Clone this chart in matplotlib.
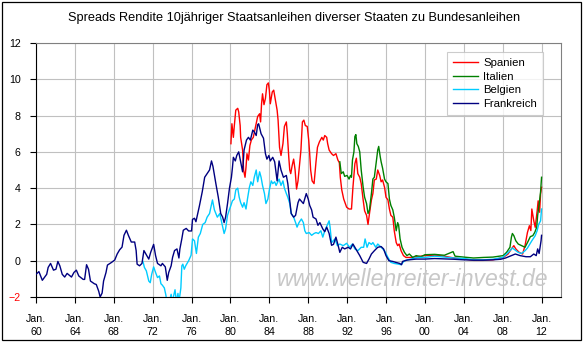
# -*- coding: utf-8 -*-
"""Spreads 10j. Staatsanleihen vs. Bundesanleihen"""

import matplotlib
matplotlib.use("Agg")
import matplotlib.pyplot as plt
from matplotlib.patches import Rectangle

# =====================================================
# DATEN (Jahr als Dezimalzahl, Spread in Prozentpunkten)
# =====================================================

jahre_frankreich = [
    1960.0, 1960.3, 1960.65, 1961.1, 1961.25, 1961.5, 1961.8, 1962.05, 1962.25, 1962.45,
    1962.7, 1962.95, 1963.2, 1963.65, 1963.9, 1964.15, 1964.4, 1964.85, 1965.0, 1965.2,
    1965.4, 1965.6, 1966.0, 1966.2, 1966.45, 1966.6, 1966.8, 1966.95, 1967.2, 1967.35,
    1967.75, 1968.1, 1968.35, 1968.6, 1968.85, 1969.05, 1969.3, 1969.5, 1969.8, 1970.15,
    1970.3, 1970.4, 1970.65, 1970.9, 1971.1, 1971.4, 1971.6, 1971.8, 1972.1, 1972.3,
    1972.5, 1972.85, 1973.0, 1973.3, 1973.5, 1973.65, 1973.9, 1974.05, 1974.25, 1974.5,
    1974.7, 1974.8, 1975.0, 1975.15, 1975.45, 1975.7, 1976.0, 1976.1, 1976.3, 1976.45,
    1976.6, 1976.8, 1977.1, 1977.35, 1977.6, 1977.85, 1978.05, 1978.2, 1978.5, 1978.75,
    1979.0, 1979.2, 1979.35, 1979.5, 1979.7, 1979.9, 1980.1, 1980.2, 1980.3, 1980.5,
    1980.65, 1980.85, 1981.05, 1981.25, 1981.4, 1981.65, 1981.85, 1982.05, 1982.3, 1982.45,
    1982.65, 1982.8, 1982.9, 1983.15, 1983.4, 1983.6, 1983.75, 1983.95, 1984.1, 1984.35,
    1984.55, 1984.8, 1985.0, 1985.2, 1985.45, 1985.75, 1985.9, 1986.1, 1986.25, 1986.5,
    1986.7, 1986.95, 1987.1, 1987.5, 1987.8, 1988.0, 1988.15, 1988.35, 1988.5, 1988.8,
    1989.0, 1989.2, 1989.5, 1989.7, 1989.9, 1990.15, 1990.4, 1990.6, 1990.85, 1991.05,
    1991.25, 1991.5, 1991.75, 1992.1, 1992.35, 1992.6, 1992.8, 1993.0, 1993.3, 1993.65,
    1994.0, 1994.25, 1994.5, 1994.8, 1995.15, 1995.5, 1995.75, 1996.0, 1996.3, 1996.7,
    1997.0, 1997.4, 1997.6, 1997.7, 1998.2, 1999.1, 2000.0, 2001.0, 2002.0, 2003.0,
    2004.0, 2005.0, 2006.0, 2007.0, 2007.8, 2008.3, 2008.9, 2009.3, 2009.8, 2010.4,
    2010.85, 2011.2, 2011.45, 2011.6, 2011.75, 2011.95, 2012.0,
]
frankreich = [
    -0.75, -0.6, -1.08, -0.75, -0.37, -0.15, -0.52, -0.47, -0.04, -0.28,
    -0.75, -0.9, -0.7, -0.9, -0.65, -0.52, -0.84, -1.03, -1.03, -0.22,
    -0.47, -1.12, -1.27, -1.31, -1.68, -2.0, -1.78, -1.12, -0.65, -0.24,
    -0.1, 0.04, 0.37, 0.6, 0.75, 1.4, 1.68, 1.4, 1.03, 1.03,
    0.56, -0.19, -0.28, -0.15, 0.56, 0.28, 0.09, 0.47, 0.9, 0.28,
    -0.15, -0.28, -0.15, -0.34, -1.08, -0.65, -0.28, 0.19, 0.56, 0.65,
    0.15, 0.65, 1.21, 1.68, 1.78, 1.64, 1.64, 2.28, 2.34, 2.15,
    2.52, 3.0, 3.8, 4.6, 4.8, 5.0, 5.5, 5.2, 4.25, 3.5,
    2.6, 2.4, 2.1, 2.4, 3.15, 4.0, 4.6, 5.1, 5.7, 5.5,
    5.8, 6.0, 5.45, 4.9, 6.1, 6.65, 6.8, 6.65, 7.2, 7.1,
    6.9, 7.5, 7.55, 7.0, 6.75, 5.9, 5.6, 5.8, 5.5, 5.7,
    5.45, 4.4, 5.5, 5.0, 4.6, 4.7, 4.25, 3.3, 2.6, 2.4,
    2.5, 3.2, 3.4, 3.15, 3.7, 3.4, 3.05, 2.8, 2.4, 2.3,
    1.95, 2.1, 1.75, 1.6, 1.85, 1.5, 0.85, 0.9, 1.3, 0.9,
    0.46, 0.74, 0.65, 0.74, 0.65, 0.92, 0.74, 0.55, 0.28, -0.09,
    -0.15, 0.09, 0.37, 0.55, 0.74, 0.78, 0.65, 0.28, 0.0, -0.04,
    -0.09, -0.15, -0.22, -0.04, 0.04, 0.09, 0.09, 0.12, 0.1, 0.08,
    0.05, 0.03, 0.03, 0.05, 0.08, 0.15, 0.28, 0.37, 0.28, 0.22,
    0.22, 0.37, 0.28, 0.65, 0.4, 1.1, 1.4,
]

jahre_belgien = [
    1971.0, 1971.15, 1971.35, 1971.6, 1971.75, 1971.9, 1972.1, 1972.3, 1972.5, 1972.7,
    1972.85, 1973.0, 1973.2, 1973.35, 1973.45, 1973.7, 1973.9, 1974.0, 1974.3, 1974.45,
    1974.6, 1974.7, 1974.9, 1975.0, 1975.1, 1975.25, 1975.4, 1975.7, 1975.95, 1976.1,
    1976.3, 1976.5, 1976.7, 1976.9, 1977.15, 1977.4, 1977.6, 1977.85, 1978.15, 1978.35,
    1978.65, 1978.9, 1979.15, 1979.35, 1979.5, 1979.7, 1979.85, 1980.05, 1980.2, 1980.4,
    1980.55, 1980.75, 1980.9, 1981.05, 1981.25, 1981.4, 1981.6, 1981.75, 1981.95, 1982.1,
    1982.3, 1982.45, 1982.65, 1982.8, 1983.0, 1983.15, 1983.3, 1983.5, 1983.65, 1983.85,
    1984.0, 1984.2, 1984.35, 1984.55, 1984.7, 1985.0, 1985.2, 1985.4, 1985.55, 1985.75,
    1985.9, 1986.1, 1986.25, 1986.5, 1986.7, 1986.85, 1987.05, 1987.3, 1987.5, 1987.65,
    1987.8, 1988.1, 1988.35, 1988.6, 1988.8, 1989.05, 1989.3, 1989.5, 1989.7, 1989.95,
    1990.15, 1990.25, 1990.4, 1990.75, 1991.0, 1991.25, 1991.6, 1991.95, 1992.25, 1992.55,
    1992.8, 1993.1, 1993.45, 1993.7, 1993.85, 1994.05, 1994.25, 1994.5, 1994.65, 1994.95,
    1995.15, 1995.5, 1995.85, 1996.2, 1996.5, 1996.85, 1997.2, 1997.55, 1997.9, 1998.55,
    1999.25, 2000.0, 2001.0, 2002.0, 2003.0, 2004.0, 2005.0, 2006.0, 2007.0, 2008.0,
    2008.4, 2008.75, 2009.0, 2009.25, 2009.6, 2009.95, 2010.3, 2010.55, 2010.8, 2011.0,
    2011.35, 2011.55, 2011.7, 2011.9, 2012.0,
]
belgien = [
    -0.04, -0.37, -0.56, -1.12, -1.21, -0.75, -0.34, -0.65, -0.93, -0.84,
    -1.27, -1.35, -1.5, -1.87, -2.2, -2.3, -1.85, -2.3, -1.6, -2.3,
    -1.8, -2.3, -1.5, -0.28, -0.19, -0.47, -0.28, 0.0, 0.3, 1.2,
    1.1, 0.4, 1.3, 1.5, 2.0, 2.1, 2.4, 2.6, 3.35, 2.8,
    2.4, 2.6, 2.0, 1.5, 1.75, 2.5, 2.75, 3.05, 3.3, 3.4,
    3.9, 4.0, 3.5, 3.2, 2.95, 3.2, 2.85, 3.4, 4.05, 4.35,
    4.15, 4.6, 5.0, 4.35, 4.9, 4.6, 4.15, 3.7, 3.15, 3.4,
    3.9, 4.4, 4.25, 4.35, 4.15, 4.5, 4.15, 4.4, 4.0, 3.7,
    3.5, 3.15, 2.6, 2.4, 2.1, 1.85, 2.1, 2.3, 2.1, 1.65,
    1.5, 1.55, 1.4, 1.5, 1.55, 1.5, 1.65, 1.3, 1.65, 1.95,
    2.2, 1.85, 1.0, 1.2, 0.83, 0.92, 0.83, 0.96, 0.74, 0.92,
    0.65, 0.55, 0.74, 0.74, 1.2, 0.74, 1.0, 0.9, 1.0, 0.74,
    0.92, 0.74, 0.55, 0.18, -0.09, -0.15, -0.18, -0.22, 0.0, 0.09,
    0.18, 0.18, 0.25, 0.2, 0.15, 0.12, 0.05, 0.05, 0.08, 0.18,
    0.37, 0.55, 0.7, 0.6, 0.46, 0.4, 0.55, 0.7, 0.92, 1.1,
    1.38, 1.66, 2.0, 2.2, 2.85,
]

jahre_spanien = [
    1980.05, 1980.15, 1980.3, 1980.4, 1980.55, 1980.75, 1980.85, 1981.0, 1981.05, 1981.25,
    1981.35, 1981.5, 1981.6, 1981.7, 1981.85, 1982.0, 1982.15, 1982.35, 1982.55, 1982.8,
    1983.0, 1983.1, 1983.2, 1983.3, 1983.45, 1983.6, 1983.75, 1983.9, 1984.0, 1984.1,
    1984.3, 1984.45, 1984.65, 1984.8, 1984.9, 1985.05, 1985.2, 1985.4, 1985.55, 1985.75,
    1985.85, 1986.0, 1986.1, 1986.2, 1986.35, 1986.5, 1986.65, 1986.8, 1986.95, 1987.15,
    1987.25, 1987.4, 1987.55, 1987.7, 1987.9, 1988.05, 1988.15, 1988.25, 1988.4, 1988.6,
    1988.8, 1988.95, 1989.15, 1989.4, 1989.55, 1989.7, 1989.9, 1990.0, 1990.15, 1990.4,
    1990.6, 1990.85, 1991.05, 1991.2, 1991.3, 1991.45, 1991.65, 1991.95, 1992.2, 1992.45,
    1992.6, 1992.8, 1992.95, 1993.1, 1993.3, 1993.45, 1993.65, 1993.8, 1994.0, 1994.15,
    1994.3, 1994.5, 1994.65, 1994.8, 1995.0, 1995.15, 1995.35, 1995.5, 1995.65, 1995.85,
    1996.0, 1996.2, 1996.35, 1996.5, 1996.7, 1996.85, 1997.05, 1997.2, 1997.35, 1997.55,
    1997.8, 1998.05, 1998.55, 1999.1, 2000.0, 2001.0, 2002.0, 2003.0, 2004.0, 2005.0,
    2006.0, 2007.0, 2008.05, 2008.55, 2008.9, 2009.15, 2009.35, 2009.7, 2010.05, 2010.3,
    2010.55, 2010.75, 2010.9, 2011.0, 2011.2, 2011.35, 2011.55, 2011.65, 2011.8, 2011.9,
    2012.0,
]
spanien = [
    6.45, 7.55, 6.8, 7.45, 8.3, 8.4, 8.2, 7.45, 6.8, 6.1,
    5.0, 4.6, 5.15, 5.9, 5.55, 6.35, 6.65, 6.8, 7.3, 7.95,
    8.1, 7.65, 8.65, 9.2, 8.6, 8.95, 9.7, 9.8, 9.4, 8.65,
    9.3, 9.4, 8.75, 8.3, 7.75, 6.25, 5.8, 6.45, 7.4, 7.65,
    7.0, 5.7, 5.0, 4.8, 5.25, 5.6, 5.0, 3.95, 4.4, 5.5,
    6.1, 7.65, 7.75, 7.45, 7.4, 6.65, 5.9, 5.0, 4.4, 4.25,
    5.45, 6.25, 6.55, 6.8, 6.65, 6.9, 6.8, 6.45, 6.1, 5.9,
    5.8, 5.9, 5.55, 5.4, 4.6, 3.9, 3.4, 2.95, 2.85, 2.85,
    4.05, 5.35, 5.65, 4.8, 4.6, 4.25, 3.35, 2.75, 2.5, 2.0,
    2.6, 3.35, 3.7, 4.45, 4.5, 5.0, 4.7, 4.35, 4.45, 4.05,
    3.5, 3.35, 2.85, 2.5, 2.4, 1.65, 1.0, 0.83, 0.92, 0.55,
    0.28, 0.18, 0.18, 0.22, 0.28, 0.3, 0.25, 0.15, 0.1, 0.02,
    0.02, 0.05, 0.18, 0.37, 0.65, 0.83, 0.65, 0.46, 0.37, 0.83,
    1.56, 1.93, 1.66, 2.85, 2.2, 1.84, 2.76, 3.3, 2.67, 3.68,
    4.05,
]

jahre_italien = [
    1991.25, 1991.4, 1991.6, 1991.75, 1992.0, 1992.2, 1992.35, 1992.45, 1992.55, 1992.7,
    1992.8, 1992.9, 1993.0, 1993.15, 1993.3, 1993.45, 1993.65, 1993.8, 1994.0, 1994.15,
    1994.3, 1994.5, 1994.65, 1994.8, 1995.0, 1995.15, 1995.25, 1995.4, 1995.5, 1995.65,
    1995.85, 1996.0, 1996.2, 1996.35, 1996.5, 1996.7, 1996.85, 1997.05, 1997.2, 1997.3,
    1997.45, 1997.65, 1997.9, 1998.15, 1998.4, 1998.75, 1999.1, 1999.6, 2000.0, 2001.0,
    2002.0, 2002.9, 2003.1, 2004.0, 2005.0, 2006.0, 2007.0, 2008.05, 2008.4, 2008.75,
    2008.9, 2009.0, 2009.15, 2009.35, 2009.6, 2009.95, 2010.3, 2010.55, 2010.85, 2011.1,
    2011.3, 2011.5, 2011.6, 2011.75, 2011.9, 2012.0,
]
italien = [
    5.45, 4.8, 4.9, 4.65, 4.7, 4.5, 4.7, 4.6, 5.55, 6.0,
    6.85, 6.95, 6.45, 6.3, 6.0, 5.0, 4.05, 3.5, 3.15, 2.6,
    2.8, 3.7, 4.5, 4.6, 5.45, 6.1, 6.3, 5.75, 5.45, 5.1,
    4.5, 4.35, 4.25, 3.4, 3.05, 2.8, 2.4, 1.65, 2.1, 1.95,
    1.2, 0.74, 0.46, 0.28, 0.37, 0.18, 0.28, 0.22, 0.33, 0.35,
    0.3, 0.5, 0.25, 0.2, 0.15, 0.18, 0.2, 0.28, 0.46, 0.74,
    1.3, 1.5, 1.38, 1.1, 0.92, 0.83, 0.74, 1.0, 1.33, 1.38,
    1.56, 1.84, 2.5, 3.1, 3.8, 4.6,
]

laender = ["Spanien", "Italien", "Belgien", "Frankreich"]
farben = ["#FF0000", "#008000", "#00CCFF", "#000080"]

tick_jahre = list(range(1960, 2013, 4))
tick_texte = ["Jan.\n%02d" % (j % 100) for j in tick_jahre]
y_ticks = [-2, 0, 2, 4, 6, 8, 10, 12]

TITEL = "Spreads Rendite 10jähriger Staatsanleihen diverser Staaten zu Bundesanleihen"
WASSERZEICHEN = "www.wellenreiter-invest.de"

# =====================================================
# GRAFIK
# =====================================================

plt.rcParams["font.family"] = ["Liberation Sans", "DejaVu Sans"]

B, H = 584, 342
fig = plt.figure(figsize=(B / 100, H / 100), dpi=100)
fig.patch.set_facecolor("white")

# Rahmen um das ganze Diagramm
fig.patches.append(Rectangle((1.5 / B, 2.5 / H), 579 / B, 337.5 / H,
                             transform=fig.transFigure, fill=False,
                             edgecolor="black", linewidth=0.9))

ax = fig.add_axes([36 / B, (H - 297) / H, (561 - 36) / B, (297 - 43) / H])

reihen = [
    (jahre_spanien, spanien),
    (jahre_italien, italien),
    (jahre_belgien, belgien),
    (jahre_frankreich, frankreich),
]
for (x, y), name, farbe in zip(reihen, laender, farben):
    ax.plot(x, y, color=farbe, linewidth=1.0, label=name, zorder=3)

ax.set_xlim(1960, 2014)
ax.set_ylim(-2, 12)

ax.set_xticks(tick_jahre)
ax.set_xticklabels(tick_texte, linespacing=1.45)
ax.set_yticks(y_ticks)
ax.tick_params(axis="both", direction="out", length=4, width=0.8,
               labelsize=7.7, color="black")
ax.tick_params(axis="x", pad=8)
ax.tick_params(axis="y", pad=7)
ax.get_yticklabels()[0].set_color("red")

ax.grid(True, color="#C0C0C0", linewidth=0.8, zorder=0)
ax.set_axisbelow(True)

for seite in ["left", "bottom"]:
    ax.spines[seite].set_color("black")
    ax.spines[seite].set_linewidth(0.8)
for seite in ["top", "right"]:
    ax.spines[seite].set_color("#808080")
    ax.spines[seite].set_linewidth(0.8)

fig.text(294 / B, 1 - 18 / H, TITEL, ha="center", va="center", fontsize=9.2)

ax.text(413 / B, 1 - 279 / H, WASSERZEICHEN, transform=fig.transFigure,
        ha="center", va="center", fontsize=16.6, style="italic",
        color="#C8C8C8", zorder=1)

leg = ax.legend(loc="upper left", bbox_to_anchor=(447 / B, 1 - 52 / H),
                bbox_transform=fig.transFigure, fontsize=8.2,
                frameon=True, fancybox=False, borderaxespad=0,
                handlelength=2.2, handletextpad=0.45, labelspacing=0.3,
                borderpad=0.55)
leg.get_frame().set_edgecolor("#C0C0C0")
leg.get_frame().set_linewidth(0.8)

fig.savefig("out.png", dpi=100)
